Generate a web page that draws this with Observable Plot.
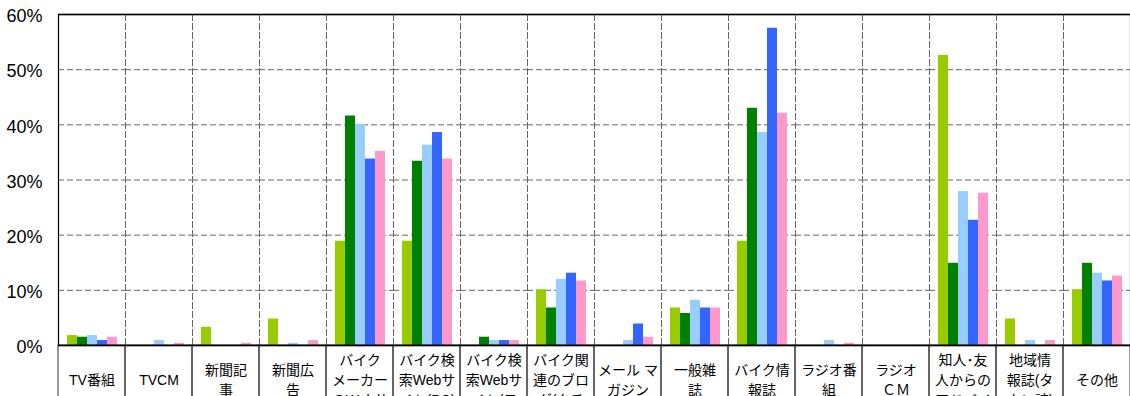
<!DOCTYPE html>
<html><head><meta charset="utf-8">
<script src="https://cdn.jsdelivr.net/npm/d3@7"></script>
<script src="https://cdn.jsdelivr.net/npm/@observablehq/plot@0.6"></script>
<style>html,body{margin:0;padding:0;background:#fff;overflow:hidden}</style>
</head><body><div id="chart"></div>
<script>
const categories = ["TV番組","TVCM","新聞記事","新聞広告","バイクメーカーのWebサイト","バイク検索Webサイト(PC)","バイク検索Webサイト(モバイル)","バイク関連のブログ(クチコミ)","メールマガジン","一般雑誌","バイク情報誌","ラジオ番組","ラジオCM","知人･友人からのアドバイス","地域情報誌(タウン誌)","その他"];
const labelLines = ["TV番組","TVCM","新聞記\n事","新聞広\n告","バイク\nメーカー\nのWebサ","バイク検\n索Webサ\nイト(PC)","バイク検\n索Webサ\nイト(モ","バイク関\n連のブロ\nグ(クチ","メール マ\nガジン","一般雑\n誌","バイク情\n報誌","ラジオ番\n組","ラジオ\nＣＭ","知人･友\n人からの\nアドバイ","地域情\n報誌(タ\nウン誌)","その他"];
const seriesNames = ["系列1","系列2","系列3","系列4","系列5"];
const colors = ["#99CC00","#008000","#99CCFF","#3366FF","#FF99CC"];
const yTicks = [0,10,20,30,40,50,60];
const s1 = [1.8,0,3.3,4.8,18.9,18.9,0,10.1,0,6.8,18.9,0,0,52.6,4.8,10.1];
const s2 = [1.5,0,0,0,41.6,33.4,1.5,6.8,0,5.8,43.0,0,0,14.9,0,14.9];
const s3 = [1.8,0.9,0,0.4,40.1,36.3,0.9,12.0,0.9,8.2,38.6,0.9,0,27.9,0.9,13.1];
const s4 = [0.9,0,0,0,33.8,38.6,0.9,13.1,3.9,6.8,57.5,0,0,22.7,0,11.7];
const s5 = [1.5,0.4,0.4,0.9,35.2,33.8,0.9,11.7,1.5,6.8,42.1,0.4,0,27.6,0.9,12.6];

const values = [s1,s2,s3,s4,s5];
const table = seriesNames.flatMap((s,i)=>categories.map((c,j)=>({category:c, series:s, value:values[i][j]})));
const labelTable = categories.map((c,j)=>({category:c, label:labelLines[j]}));

const plot = Plot.plot({
  width:1134, height:396, marginLeft:56, marginRight:2, marginTop:14, marginBottom:51,
  style:{fontFamily:"'Liberation Sans','Noto Sans CJK JP',sans-serif", background:"#fff", maxWidth:"none", overflow:"visible", color:"#000"},
  fx:{domain:categories, padding:0, axis:null},
  x:{domain:seriesNames, paddingInner:0, paddingOuter:0.72, axis:null},
  y:{domain:[0,60], axis:null},
  color:{domain:seriesNames, range:colors},
  marks:[
    Plot.ruleY(yTicks.slice(1,-1), {stroke:"#666", strokeDasharray:"6,3"}),
    Plot.frame({anchor:"left", stroke:"#666", strokeDasharray:"6,3"}),
    Plot.barY(table, {fx:"category", x:"series", y:"value", fill:"series"}),
    Plot.rect(labelTable, {fx:"category", y1:0, y2:-15, stroke:"#333", fill:"none"}),
    Plot.text(labelTable, {fx:"category", text:"label", frameAnchor:"bottom", dy:33, lineAnchor:"middle", lineHeight:1.43, fontSize:14, fill:"#000"}),
    Plot.ruleY([0,60], {stroke:"#000", strokeWidth:1.5}),
    Plot.frame({facet:"super", stroke:"#000", strokeWidth:1.2}),
    Plot.axisY({ticks:yTicks, tickFormat:d=>d+"%", tickSize:0, tickPadding:16, fontSize:18, fill:"#000", label:null, dy:2})
  ]
});
document.getElementById("chart").appendChild(plot);
</script>
</body></html>
